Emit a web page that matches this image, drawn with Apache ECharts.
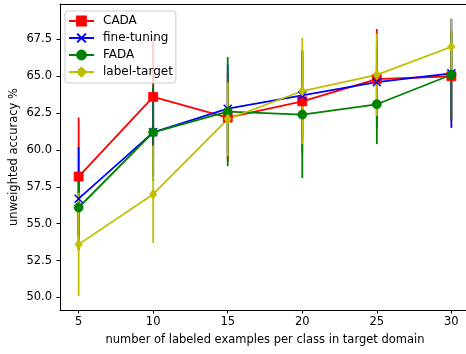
<!DOCTYPE html>
<html>
<head>
<meta charset="utf-8">
<script src="https://cdn.jsdelivr.net/npm/echarts@6/dist/echarts.min.js"></script>
<style>
  html, body { margin: 0; padding: 0; background: #fff; overflow: hidden; width: 466px; height: 354px; }
  /* the plot runs a few pixels past the right edge of the page */
  #chart { width: 472px; height: 354px; }
</style>
</head>
<body>
<div id="chart"></div>
<script>
// Labeled examples per class in the target domain
const shots = [5, 10, 15, 20, 25, 30];

// Mean unweighted accuracy (%) and half-width of the error bars
const cadaMean = [58.2, 63.6, 62.2, 63.3, 64.8, 65.0];
const cadaErr  = [4.0, 4.0, 3.0, 3.5, 3.4, 3.0];

const fineTuningMean = [56.7, 61.2, 62.8, 63.7, 64.6, 65.2];
const fineTuningErr  = [3.5, 3.0, 3.0, 3.0, 2.5, 3.7];

const fadaMean = [56.1, 61.2, 62.6, 62.4, 63.1, 65.1];
const fadaErr  = [2.0, 3.3, 3.7, 4.3, 2.7, 3.0];

const labelTargetMean = [53.6, 57.0, 62.1, 64.0, 65.1, 67.0];
const labelTargetErr  = [3.5, 3.3, 2.5, 3.6, 2.8, 1.9];

// Axis ticks
const xTicks = [5, 10, 15, 20, 25, 30];
const yTicks = [50.0, 52.5, 55.0, 57.5, 60.0, 62.5, 65.0, 67.5];

const methods = [
  { name: 'CADA',         mean: cadaMean,        err: cadaErr,        color: '#ff0000', symbol: 'rect',    size: 9 },
  { name: 'fine-tuning',  mean: fineTuningMean,  err: fineTuningErr,  color: '#0000ff',
    symbol: 'path://M0,0L10,10M10,0L0,10', size: 8 },
  { name: 'FADA',         mean: fadaMean,        err: fadaErr,        color: '#008000', symbol: 'circle',  size: 9 },
  { name: 'label-target', mean: labelTargetMean, err: labelTargetErr, color: '#bfbf00', symbol: 'diamond', size: [7, 10] }
];

const series = [];

// Vertical error bars, kept beneath every line and marker
methods.forEach(function (m) {
  series.push({
    type: 'custom',
    name: m.name + ' err',
    z: 1,
    silent: true,
    data: shots.map(function (x, i) { return [x, m.mean[i] - m.err[i], m.mean[i] + m.err[i]]; }),
    encode: { x: 0, y: [1, 2] },
    renderItem: function (params, api) {
      const lo = api.coord([api.value(0), api.value(1)]);
      const hi = api.coord([api.value(0), api.value(2)]);
      return {
        type: 'line',
        shape: { x1: lo[0], y1: lo[1], x2: hi[0], y2: hi[1] },
        style: { stroke: m.color, lineWidth: 1.8 }
      };
    }
  });
});

// Mean curves with markers
methods.forEach(function (m) {
  const isCross = m.symbol.indexOf('path://') === 0;
  series.push({
    type: 'line',
    name: m.name,
    z: 3,
    data: shots.map(function (x, i) { return [x, m.mean[i]]; }),
    symbol: m.symbol,
    symbolSize: m.size,
    showAllSymbol: true,
    lineStyle: { color: m.color, width: 1.8 },
    itemStyle: isCross
      ? { color: m.color, borderColor: m.color, borderWidth: 1.5 }
      : { color: m.color, borderColor: m.color, borderWidth: 0.8 },
    emphasis: { disabled: true },
    animation: false
  });
});

const chart = echarts.init(document.getElementById('chart'), null, { renderer: 'canvas' });
const font = 'DejaVu Sans';

chart.setOption({
  animation: false,
  backgroundColor: '#ffffff',
  textStyle: { fontFamily: font },
  grid: {
    left: 60, top: 4, width: 410, height: 306,
    outerBoundsMode: 'none',
    containLabel: false,
    show: false
  },
  legend: {
    data: methods.map(function (m) { return m.name; }),
    orient: 'vertical',
    left: 65, top: 11,
    itemWidth: 25, itemHeight: 11, itemGap: 5,
    padding: [4, 3, 5, 3],
    backgroundColor: 'rgba(255,255,255,0.8)',
    borderColor: '#cccccc', borderWidth: 1, borderRadius: 3,
    textStyle: { fontFamily: font, fontSize: 12, color: '#000', padding: [0, 0, 0, 4] },
    selectedMode: false
  },
  xAxis: [{
    type: 'value',
    min: 3.75, max: 31.25,
    name: 'number of labeled examples per class in target domain',
    nameLocation: 'middle', nameGap: 24,
    nameTextStyle: { fontFamily: font, fontSize: 11.5, color: '#000' },
    splitLine: { show: false },
    axisLine: { lineStyle: { color: '#000', width: 1 } },
    axisTick: { show: true, length: 3.5, lineStyle: { color: '#000' }, customValues: xTicks },
    axisLabel: { fontFamily: font, fontSize: 11.5, color: '#000', margin: 6, customValues: xTicks }
  }, {
    // top frame line only
    type: 'value',
    position: 'top',
    min: 3.75, max: 31.25,
    splitLine: { show: false },
    axisLine: { show: true, lineStyle: { color: '#000', width: 1 } },
    axisTick: { show: false },
    axisLabel: { show: false }
  }],
  yAxis: {
    type: 'value',
    min: 49.15, max: 69.9,
    name: 'unweighted accuracy %',
    nameLocation: 'middle', nameGap: 40, nameRotate: 90,
    nameMoveOverlap: false,
    nameTextStyle: { fontFamily: font, fontSize: 11.5, color: '#000' },
    splitLine: { show: false },
    axisLine: { show: true, lineStyle: { color: '#000', width: 1 } },
    axisTick: { show: true, length: 3.5, lineStyle: { color: '#000' }, customValues: yTicks },
    axisLabel: {
      fontFamily: font, fontSize: 11.5, color: '#000', margin: 8, customValues: yTicks,
      formatter: function (v) { return v.toFixed(1); }
    }
  },
  series: series
});
</script>
</body>
</html>
